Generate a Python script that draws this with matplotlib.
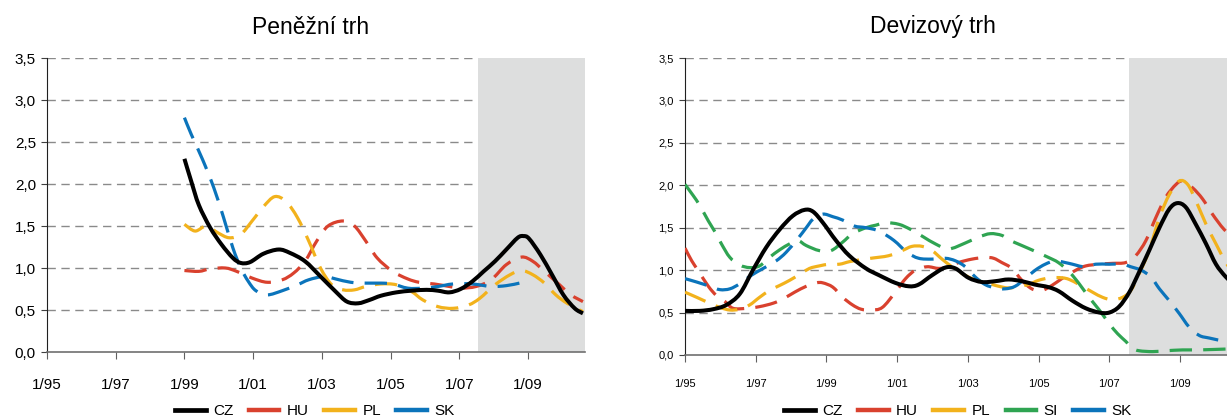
import matplotlib
matplotlib.use("Agg")
import matplotlib.pyplot as plt
from matplotlib.lines import Line2D
from matplotlib.path import Path
from matplotlib.patches import PathPatch

plt.rcParams['font.family'] = ['Liberation Sans', 'DejaVu Sans']

# ---------------- data: money market (Peněžní trh) ----------------
mm_cz_t = [1999.0, 1999.2, 1999.42, 1999.75, 2000.08, 2000.41, 2000.64, 2000.91, 2001.3, 2001.74, 2002.07,
           2002.51, 2002.96, 2003.4, 2003.73, 2004.06, 2004.39, 2004.72, 2005.17, 2005.61, 2006.05, 2006.38,
           2006.71, 2007.04, 2007.38, 2007.71, 2008.04, 2008.37, 2008.7, 2008.87, 2009.03, 2009.36, 2009.7,
           2010.03, 2010.36, 2010.6]
mm_cz = [2.30, 2.03, 1.75, 1.48, 1.28, 1.12, 1.06, 1.07, 1.17, 1.22, 1.18, 1.08, 0.90, 0.72, 0.60, 0.58, 0.62,
         0.67, 0.71, 0.73, 0.74, 0.73, 0.71, 0.75, 0.84, 0.96, 1.08, 1.22, 1.36, 1.38, 1.35, 1.16, 0.92, 0.68,
         0.52, 0.46]

mm_hu_t = [1999.0, 1999.42, 1999.75, 2000.19, 2000.52, 2000.97, 2001.41, 2001.85, 2002.18, 2002.51, 2002.85,
           2003.18, 2003.62, 2003.95, 2004.28, 2004.61, 2005.06, 2005.5, 2005.83, 2006.27, 2006.71, 2007.04,
           2007.49, 2007.93, 2008.37, 2008.81, 2009.14, 2009.48, 2009.92, 2010.25, 2010.6]
mm_hu = [0.97, 0.96, 0.99, 1.0, 0.96, 0.88, 0.83, 0.86, 0.94, 1.08, 1.32, 1.50, 1.56, 1.50, 1.32, 1.12, 0.96,
         0.87, 0.83, 0.81, 0.78, 0.76, 0.78, 0.86, 1.04, 1.13, 1.08, 0.96, 0.80, 0.68, 0.60]

mm_pl_t = [1999.0, 1999.31, 1999.64, 1999.97, 2000.3, 2000.64, 2000.97, 2001.3, 2001.63, 2001.96, 2002.29,
           2002.62, 2002.96, 2003.29, 2003.62, 2003.95, 2004.28, 2004.72, 2005.17, 2005.61, 2005.94, 2006.38,
           2006.82, 2007.27, 2007.6, 2008.04, 2008.48, 2008.81, 2009.14, 2009.48, 2009.81, 2010.14, 2010.6]
mm_pl = [1.52, 1.44, 1.50, 1.42, 1.36, 1.40, 1.56, 1.73, 1.85, 1.79, 1.60, 1.32, 1.0, 0.80, 0.74, 0.74, 0.78,
         0.81, 0.80, 0.72, 0.62, 0.54, 0.52, 0.56, 0.64, 0.80, 0.92, 0.97, 0.92, 0.82, 0.68, 0.58, 0.48]

mm_sk_t = [1999.0, 1999.2, 1999.53, 1999.86, 2000.14, 2000.41, 2000.64, 2000.86, 2001.08, 2001.41, 2001.85,
           2002.29, 2002.62, 2003.07, 2003.4, 2003.84, 2004.28, 2004.72, 2005.06, 2005.5, 2005.94, 2006.38,
           2006.82, 2007.38, 2007.93, 2008.37, 2008.75]
mm_sk = [2.79, 2.59, 2.29, 1.95, 1.60, 1.24, 1.0, 0.84, 0.73, 0.68, 0.73, 0.80, 0.86, 0.90, 0.87, 0.83, 0.82,
         0.82, 0.81, 0.76, 0.76, 0.78, 0.81, 0.81, 0.78, 0.79, 0.82]

# ---------------- data: FX market (Devizový trh) ----------------
fx_cz_t = [1995.0, 1995.42, 1995.8, 1996.17, 1996.55, 1996.92, 1997.3, 1997.68, 1998.05, 1998.38, 1998.62,
           1998.9, 1999.27, 1999.65, 2000.12, 2000.49, 2000.95, 2001.33, 2001.61, 2001.99, 2002.36, 2002.65,
           2003.02, 2003.4, 2003.78, 2004.15, 2004.53, 2004.9, 2005.28, 2005.58, 2005.96, 2006.34, 2006.72,
           2007.0, 2007.28, 2007.57, 2007.85, 2008.13, 2008.42, 2008.7, 2008.93, 2009.17, 2009.45, 2009.74,
           2010.02, 2010.3, 2010.6]
fx_cz = [0.52, 0.52, 0.54, 0.59, 0.72, 1.0, 1.27, 1.48, 1.64, 1.71, 1.69, 1.56, 1.35, 1.17, 1.02, 0.94, 0.85,
         0.81, 0.83, 0.94, 1.03, 1.02, 0.91, 0.86, 0.87, 0.89, 0.87, 0.83, 0.80, 0.75, 0.64, 0.55, 0.50, 0.50,
         0.57, 0.74, 0.98, 1.23, 1.50, 1.72, 1.79, 1.74, 1.54, 1.31, 1.07, 0.92, 0.80]

fx_hu_t = [1995.0, 1995.19, 1995.38, 1995.66, 1995.89, 1996.13, 1996.36, 1996.74, 1997.11, 1997.49, 1997.77,
           1998.1, 1998.43, 1998.71, 1998.9, 1999.18, 1999.46, 1999.74, 1999.98, 2000.26, 2000.58, 2000.95,
           2001.24, 2001.52, 2001.85, 2002.18, 2002.46, 2002.74, 2003.12, 2003.49, 2003.73, 2003.96, 2004.25,
           2004.53, 2004.81, 2005.09, 2005.38, 2005.66, 2006.06, 2006.34, 2006.72, 2007.09, 2007.47, 2007.75,
           2008.04, 2008.32, 2008.6, 2008.89, 2009.08, 2009.36, 2009.64, 2009.92, 2010.25, 2010.6]
fx_hu = [1.26, 1.11, 0.99, 0.81, 0.70, 0.63, 0.55, 0.55, 0.57, 0.61, 0.66, 0.74, 0.81, 0.85, 0.85, 0.80, 0.68,
         0.59, 0.54, 0.53, 0.56, 0.74, 0.90, 1.0, 1.04, 1.02, 1.04, 1.09, 1.13, 1.15, 1.14, 1.09, 1.02, 0.88,
         0.78, 0.76, 0.82, 0.90, 1.0, 1.05, 1.07, 1.08, 1.09, 1.17, 1.35, 1.62, 1.86, 2.01, 2.05, 1.97, 1.84,
         1.66, 1.48, 1.35]

fx_pl_t = [1995.0, 1995.33, 1995.7, 1995.99, 1996.27, 1996.55, 1996.83, 1997.11, 1997.39, 1997.68, 1997.96,
           1998.24, 1998.52, 1998.8, 1999.08, 1999.37, 1999.65, 1999.93, 2000.26, 2000.76, 2001.14, 2001.42,
           2001.71, 2001.99, 2002.27, 2002.55, 2002.84, 2003.12, 2003.4, 2003.78, 2004.15, 2004.44, 2004.72,
           2005.0, 2005.33, 2005.66, 2005.87, 2006.15, 2006.53, 2006.81, 2007.09, 2007.38, 2007.61, 2007.85,
           2008.13, 2008.42, 2008.7, 2008.98, 2009.22, 2009.45, 2009.74, 2010.02, 2010.3, 2010.6]
fx_pl = [0.74, 0.68, 0.61, 0.56, 0.53, 0.54, 0.59, 0.68, 0.76, 0.82, 0.88, 0.95, 1.02, 1.05, 1.07, 1.07, 1.10,
         1.12, 1.14, 1.17, 1.23, 1.28, 1.28, 1.23, 1.13, 1.04, 0.96, 0.90, 0.87, 0.82, 0.79, 0.81, 0.83, 0.88,
         0.91, 0.91, 0.89, 0.83, 0.74, 0.68, 0.65, 0.68, 0.76, 0.96, 1.23, 1.62, 1.89, 2.05, 2.01, 1.82, 1.54,
         1.31, 1.09, 0.90]

fx_si_t = [1995.0, 1995.23, 1995.42, 1995.66, 1995.85, 1996.03, 1996.27, 1996.55, 1996.83, 1997.11, 1997.39,
           1997.68, 1997.96, 1998.19, 1998.43, 1998.8, 1999.13, 1999.46, 1999.74, 2000.12, 2000.4, 2000.67,
           2001.05, 2001.38, 2001.75, 2002.08, 2002.46, 2002.93, 2003.31, 2003.64, 2003.96, 2004.15, 2004.53,
           2004.86, 2005.28, 2005.56, 2005.87, 2006.15, 2006.43, 2006.72, 2007.0, 2007.24, 2007.47, 2007.65,
           2007.85, 2008.23, 2008.6, 2009.08, 2009.55, 2010.3, 2010.6]
fx_si = [2.01, 1.88, 1.76, 1.58, 1.45, 1.31, 1.15, 1.06, 1.03, 1.05, 1.15, 1.24, 1.31, 1.35, 1.29, 1.23, 1.23,
         1.33, 1.43, 1.50, 1.53, 1.56, 1.54, 1.48, 1.39, 1.31, 1.25, 1.32, 1.39, 1.43, 1.41, 1.36, 1.29, 1.23,
         1.15, 1.09, 0.98, 0.84, 0.68, 0.53, 0.37, 0.25, 0.16, 0.08, 0.05, 0.04, 0.05, 0.06, 0.06, 0.07, 0.07]

fx_sk_t = [1995.0, 1995.33, 1995.7, 1995.99, 1996.27, 1996.55, 1996.88, 1997.21, 1997.58, 1997.86, 1998.19,
           1998.43, 1998.62, 1998.9, 1999.18, 1999.46, 1999.79, 2000.12, 2000.49, 2000.91, 2001.28, 2001.61,
           2001.99, 2002.36, 2002.65, 2002.93, 2003.21, 2003.49, 2003.78, 2004.06, 2004.34, 2004.62, 2004.91,
           2005.19, 2005.47, 2005.75, 2005.96, 2006.29, 2006.62, 2007.0, 2007.38, 2007.61, 2007.9, 2008.18,
           2008.42, 2008.7, 2008.98, 2009.26, 2009.55, 2009.83, 2010.3, 2010.6]
fx_sk = [0.90, 0.86, 0.81, 0.77, 0.78, 0.84, 0.94, 1.02, 1.11, 1.21, 1.37, 1.50, 1.60, 1.66, 1.63, 1.59, 1.52,
         1.50, 1.46, 1.35, 1.21, 1.14, 1.13, 1.14, 1.11, 1.04, 0.92, 0.83, 0.79, 0.78, 0.81, 0.90, 1.0, 1.07,
         1.11, 1.09, 1.07, 1.04, 1.07, 1.07, 1.07, 1.04, 1.0, 0.92, 0.78, 0.64, 0.49, 0.33, 0.23, 0.20, 0.16,
         0.15]

tick_years = [1995, 1997, 1999, 2001, 2003, 2005, 2007, 2009]
tick_labels = ['1/95', '1/97', '1/99', '1/01', '1/03', '1/05', '1/07', '1/09']
y_ticks = [0.0, 0.5, 1.0, 1.5, 2.0, 2.5, 3.0, 3.5]
y_labels = ['0,0', '0,5', '1,0', '1,5', '2,0', '2,5', '3,0', '3,5']
shade_start = 2007.55
x_min, x_max = 1995.0, 2010.66

C_CZ = '#000000'
C_HU = '#d9412e'
C_PL = '#f2b21c'
C_SI = '#2fa452'
C_SK = '#0b74bb'

W, H = 1227, 416
fig = plt.figure(figsize=(W / 100, H / 100), dpi=100)


def make_axes(rect, fs_y, fs_x, xpad):
    ax = fig.add_axes(rect)
    ax.set_xlim(x_min, x_max)
    ax.set_ylim(0, 3.5)
    ax.set_yticks(y_ticks)
    ax.set_yticklabels(y_labels, fontsize=fs_y)
    ax.set_xticks(tick_years)
    ax.set_xticklabels(tick_labels, fontsize=fs_x)
    ax.tick_params(axis='x', direction='out', length=5, pad=xpad, color='#606060')
    ax.tick_params(axis='y', direction='out', length=4, pad=4, color='#404040')
    for s in ['top', 'right']:
        ax.spines[s].set_visible(False)
    ax.spines['left'].set_color('#202020')
    ax.spines['bottom'].set_color('#707070')
    ax.spines['bottom'].set_linewidth(1.2)
    for yv in y_ticks[1:]:
        ax.axhline(yv, color='#8a8a8a', lw=1.0, ls=(0, (6, 4)), zorder=0.5)
    ax.axvspan(shade_start, x_max, color='#dddede', lw=0, zorder=1)
    return ax


def smooth_line(ax, t, v, color, lw, ls, z):
    """Excel-like smoothed line: cubic Bezier path through the data points (Catmull-Rom)."""
    n = len(t)
    verts = [(t[0], v[0])]
    codes = [Path.MOVETO]
    for i in range(n - 1):
        p0 = (t[i - 1], v[i - 1]) if i > 0 else (t[i], v[i])
        p1 = (t[i], v[i])
        p2 = (t[i + 1], v[i + 1])
        p3 = (t[i + 2], v[i + 2]) if i + 2 < n else p2
        c1 = (p1[0] + (p2[0] - p0[0]) / 6.0, p1[1] + (p2[1] - p0[1]) / 6.0)
        c2 = (p2[0] - (p3[0] - p1[0]) / 6.0, p2[1] - (p3[1] - p1[1]) / 6.0)
        verts += [c1, c2, p2]
        codes += [Path.CURVE4, Path.CURVE4, Path.CURVE4]
    patch = PathPatch(Path(verts, codes), fill=False, edgecolor=color, lw=lw, linestyle=ls,
                      capstyle='butt', joinstyle='round', zorder=z)
    ax.add_patch(patch)


dash = (0, (7, 3.5))
lw = 2.3

# left panel
ax1 = make_axes([47 / W, 1 - 352 / H, (585 - 47) / W, (352 - 58) / H], 11, 11, 14)
smooth_line(ax1, mm_hu_t, mm_hu, C_HU, lw, dash, 3)
smooth_line(ax1, mm_pl_t, mm_pl, C_PL, lw, dash, 3)
smooth_line(ax1, mm_sk_t, mm_sk, C_SK, lw, dash, 3)
smooth_line(ax1, mm_cz_t, mm_cz, C_CZ, 2.9, '-', 4)

# right panel (extends beyond the right edge, as in the reference)
fx_px_per_year = 35.35
ax2 = make_axes([685 / W, 1 - 355 / H, (x_max - x_min) * fx_px_per_year / W, (355 - 58) / H], 8, 8, 12)
smooth_line(ax2, fx_hu_t, fx_hu, C_HU, lw, dash, 3)
smooth_line(ax2, fx_pl_t, fx_pl, C_PL, lw, dash, 3)
smooth_line(ax2, fx_si_t, fx_si, C_SI, lw, dash, 3)
smooth_line(ax2, fx_sk_t, fx_sk, C_SK, lw, dash, 3)
smooth_line(ax2, fx_cz_t, fx_cz, C_CZ, 2.9, '-', 4)

fig.text(311 / W, 1 - 27 / H, 'Peněžní trh', ha='center', va='center', fontsize=16.5)
fig.text(933 / W, 1 - 27 / H, 'Devizový trh', ha='center', va='center', fontsize=16.5)


def handles(names, colors):
    return [Line2D([0], [0], color=c, lw=(3.4 if n == 'CZ' else 3.2)) for n, c in zip(names, colors)]


fig.legend(handles(['CZ', 'HU', 'PL', 'SK'], [C_CZ, C_HU, C_PL, C_SK]), ['CZ', 'HU', 'PL', 'SK'],
           loc='center', bbox_to_anchor=(315 / W, 1 - 411 / H), ncol=4, frameon=False, fontsize=11,
           handlelength=2.0, handletextpad=0.5, columnspacing=1.0)
fig.legend(handles(['CZ', 'HU', 'PL', 'SI', 'SK'], [C_CZ, C_HU, C_PL, C_SI, C_SK]),
           ['CZ', 'HU', 'PL', 'SI', 'SK'],
           loc='center', bbox_to_anchor=(958 / W, 1 - 411 / H), ncol=5, frameon=False, fontsize=11,
           handlelength=2.0, handletextpad=0.5, columnspacing=1.0)

fig.savefig('out.png', dpi=100)
